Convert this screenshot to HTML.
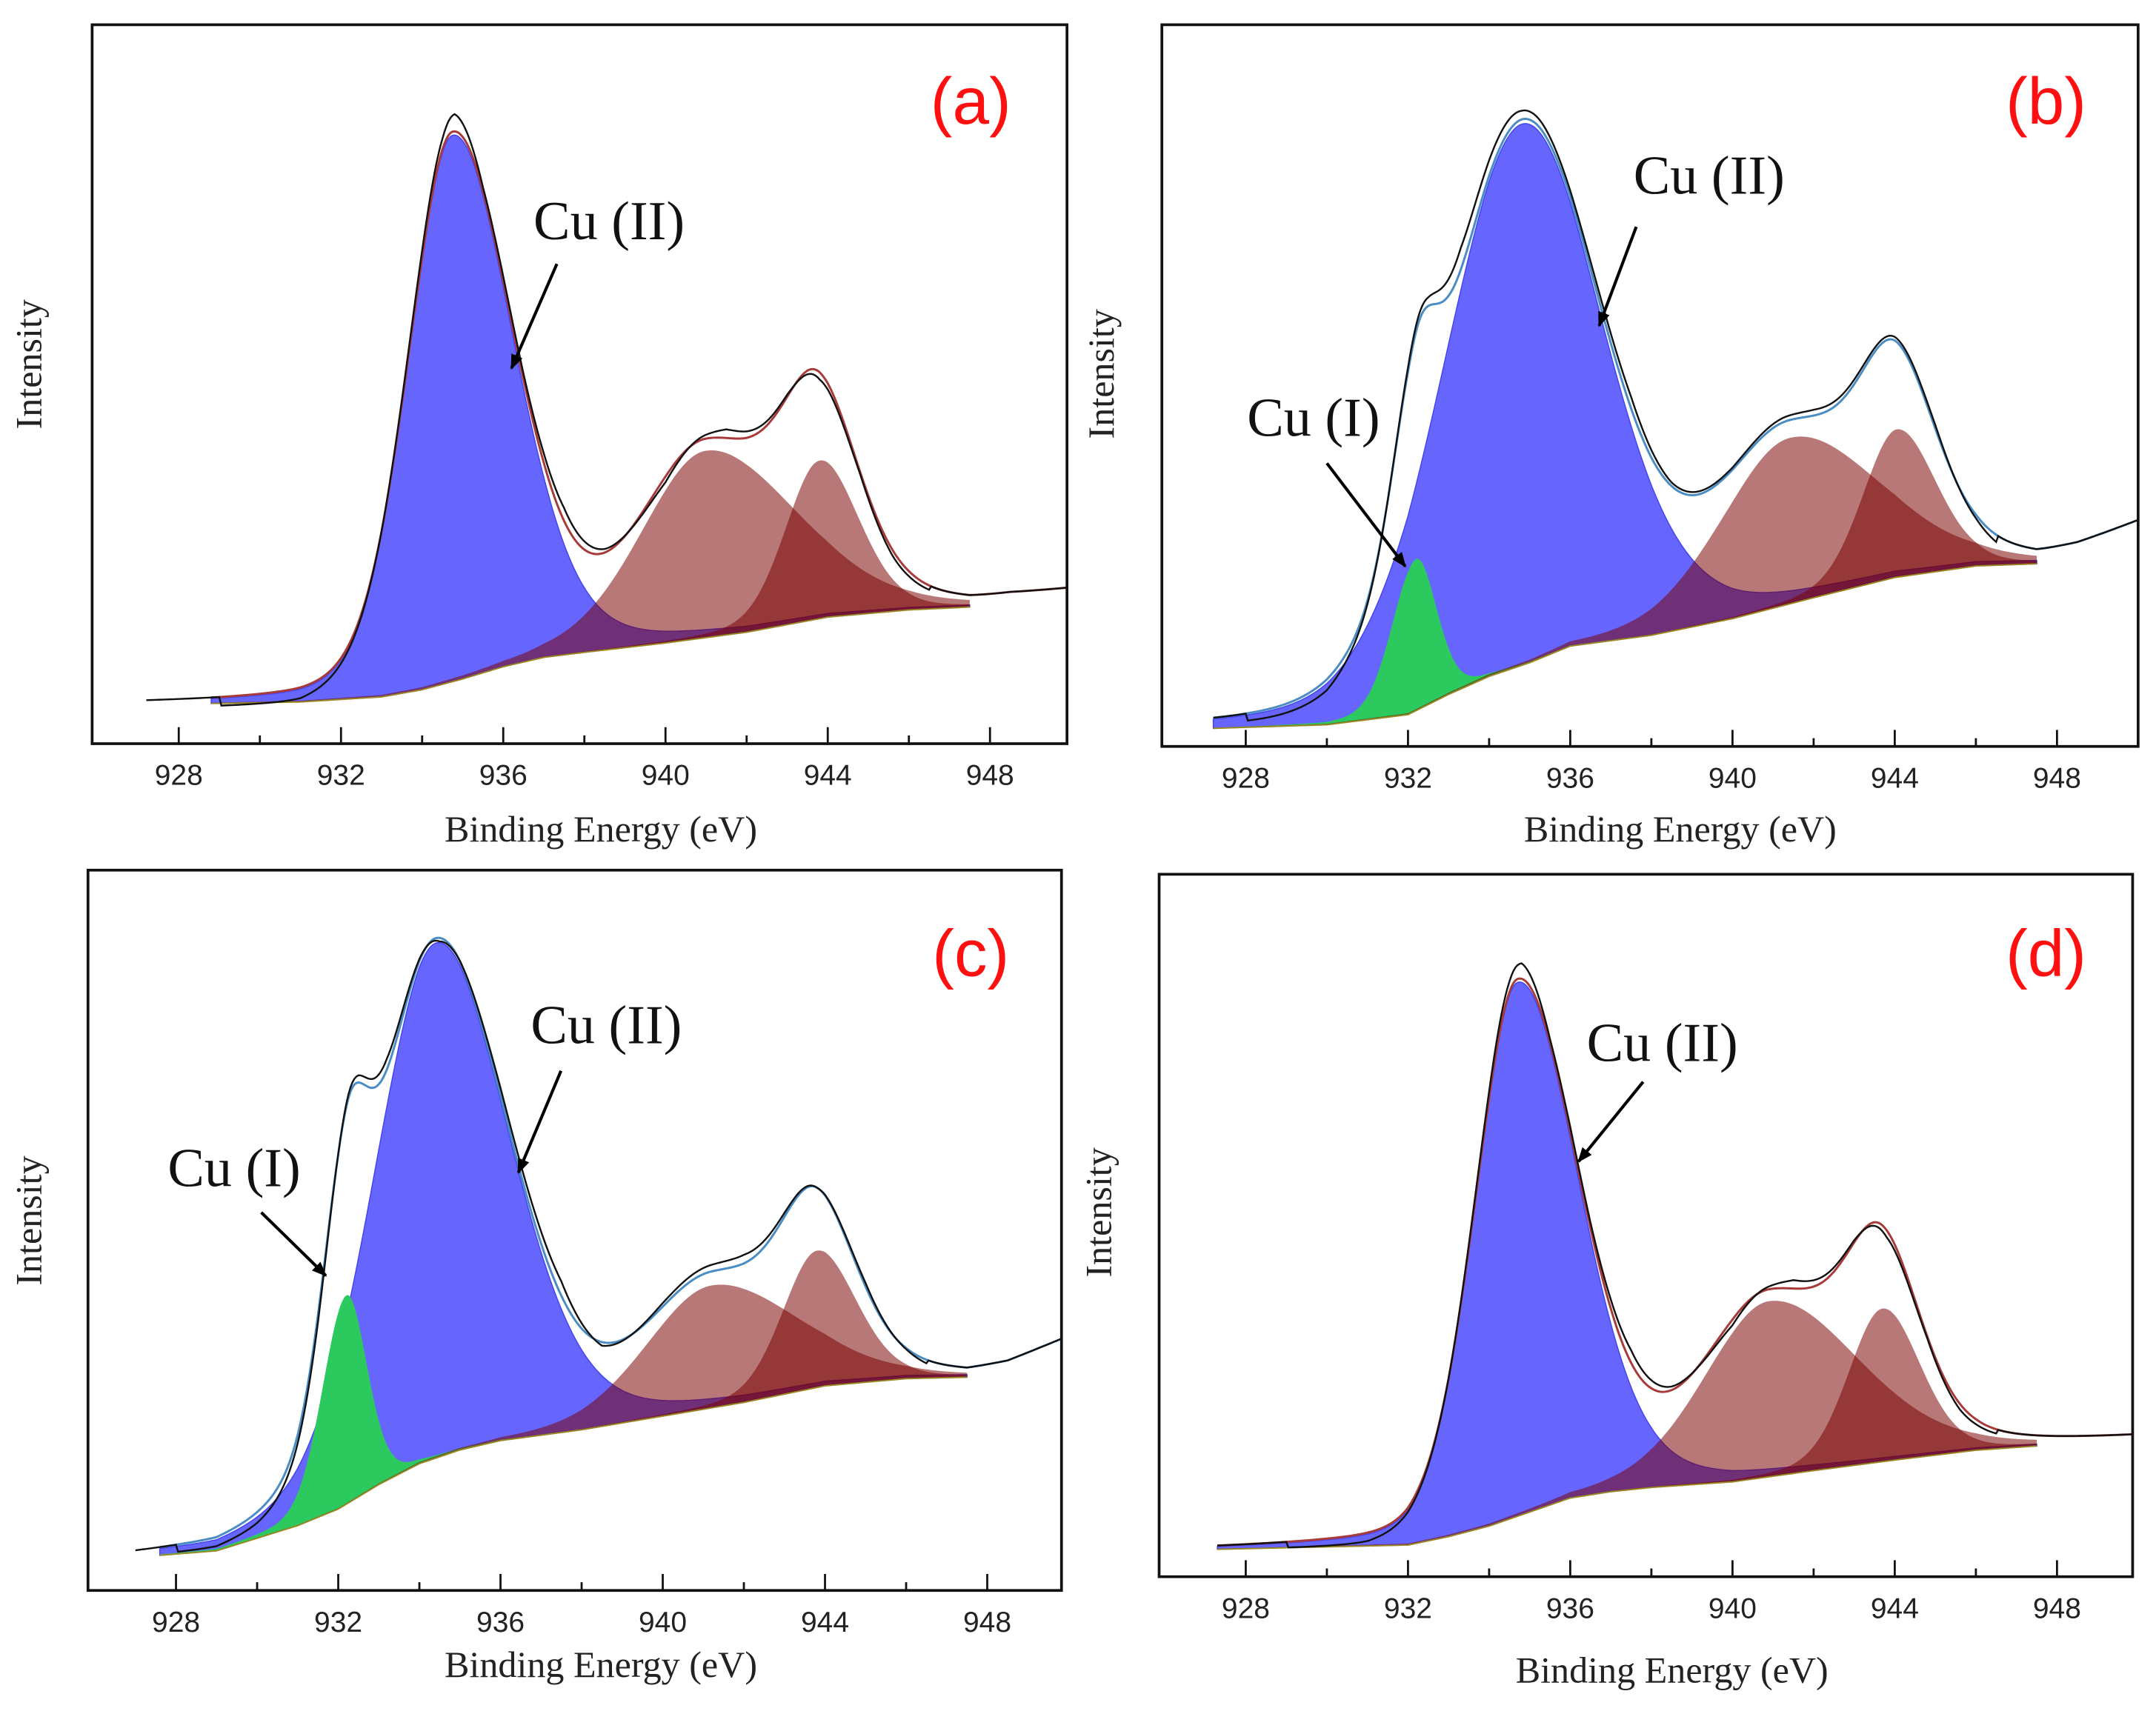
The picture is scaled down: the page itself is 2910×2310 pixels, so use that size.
<!DOCTYPE html>
<html><head><meta charset="utf-8"><style>
html,body{margin:0;padding:0;background:#fff;}
svg{display:block;}
.tick{font-family:"Liberation Sans",sans-serif;font-size:21px;fill:#222;text-anchor:middle;}
.axl{font-family:"Liberation Serif",serif;font-size:27px;fill:#222;text-anchor:middle;}
.ann{font-family:"Liberation Serif",serif;font-size:40px;fill:#111;}
.lab{font-family:"Liberation Sans",sans-serif;font-size:48px;fill:#ff1010;text-anchor:middle;}
</style></head><body>
<svg id="fig" width="2910" height="2310" viewBox="0 0 1568 1244.7" preserveAspectRatio="none" xmlns="http://www.w3.org/2000/svg"></svg>
<script>
// ---- Panel (a) data ----
const bgEV_a = [927.2,929,931,933,934,935,936,937,938,940,942,944,946,947.5,948.5,950];
const bgVal_a = [5.5,5.6,5.8,6.5,7.5,9,10.7,12,12.7,14,15.5,17.6,18.6,19,20,21];
const centers_a = [934.75,941.0,943.8];
const heights_a = [76,26,22];
const widthsL_a = [1.3,1.9,1.0];
const widthsR_a = [1.75,2.6,1.15];
const kinds_a = ['blue','red','red'];
const measEV_a = [929,931,933,934.5,934.8,935.5,936.5,937.5,938.5,940,941.5,943,943.8,944.8,945.6,946.5];
const measDev_a = [-1.2,-1.5,0,1.5,2.4,0.5,0.8,1.8,0.5,-0.8,1.2,0.3,-1.0,-0.3,-0.8,-0.6];

// ---- Panel (b) data ----
const bgEV_b = [927.2,930,932,933,934,935,936,938,940,942,944,946,947.5,948.5,950];
const bgVal_b = [2.5,3,4.4,7.2,9.7,11.6,13.9,15.4,17.7,20.6,23.4,25,25.3,27,30.5];
const centers_b = [934.8,932.2,941.4,944.05];
const heights_b = [75,21,23,20.5];
const widthsL_b = [2.3,0.7,2.0,1.0];
const widthsR_b = [2.3,0.6,2.6,1.15];
const kinds_b = ['blue','green','red','red'];
const measEV_b = [928,930,931.5,932.5,933.3,934.8,936,937.5,938.5,940,942,943.8,945,946.5];
const measDev_b = [-1,-1.5,0,1.2,3,1.2,0.8,1.6,0.5,0.3,0.8,0.5,0.5,-1];

// ---- Panel (c) data ----
const bgEV_c = [927,929,931,932,933,934,935,936,938,940,942,944,946,947.5,948.5,950];
const bgVal_c = [4.6,5.5,9,11.3,14.7,17.6,19.5,20.8,22.3,24.2,26.1,28.4,29.4,29.6,31,34.7];
const centers_c = [934.4,932.2,941.2,943.8];
const heights_c = [71.5,29,17,19];
const widthsL_c = [1.8,0.7,1.9,1.0];
const widthsR_c = [2.1,0.6,2.5,1.15];
const kinds_c = ['blue','green','red','red'];
const measEV_c = [928,930,931.5,932.5,933.2,934.5,936,937.5,938.5,940,942,943.8,945,946.5];
const measDev_c = [-1,-1.5,-1,1,1.5,-0.5,1,2,-0.5,0.5,1.2,0,0.5,-0.5];

// ---- Panel (d) data ----
const bgEV_d = [927.3,932,933,934,935,936,937,938,940,942,944,946,947.5,948.5,950];
const bgVal_d = [3.9,4.5,5.7,7.2,9.2,11.2,12.1,12.7,13.5,15.1,16.6,18,18.6,19,19.6];
const centers_d = [934.7,940.9,943.7];
const heights_d = [76,25,21.8];
const widthsL_d = [1.25,1.9,1.0];
const widthsR_d = [1.75,2.6,1.1];
const kinds_d = ['blue','red','red'];
const measEV_d = [929,931,933,934.5,934.8,935.5,936.5,937.5,938.5,940,941.5,943,943.8,944.8,945.6,946.5];
const measDev_d = [-0.8,-1.2,0,1.5,2.2,0.5,0.8,1.8,0.5,-0.8,1.2,0.3,-1.0,-0.3,-0.8,-0.6];

const NS='http://www.w3.org/2000/svg';
const fig=document.getElementById('fig');
function mk(tag,attrs,parent){const e=document.createElementNS(NS,tag);for(const k in attrs)e.setAttribute(k,attrs[k]);(parent||fig).appendChild(e);return e;}
function interp(xs,ys,x){if(x<=xs[0])return ys[0];for(let i=1;i<xs.length;i++){if(x<=xs[i]){const t=(x-xs[i-1])/(xs[i]-xs[i-1]);return ys[i-1]+t*(ys[i]-ys[i-1]);}}return ys[ys.length-1];}
function pv(x,c,h,wl,wr){const w=x<c?wl:wr;const d=(x-c)/w;return h*(0.8*Math.exp(-Math.LN2*d*d)+0.2/(1+d*d));}

const panels=[
 {id:'a',L:67,T:18,R:776,B:541,x928:130,lbl:[706,90],xl:[437,612],yl:[30,265],bgEV:bgEV_a,bgVal:bgVal_a,c:centers_a,h:heights_a,wl:widthsL_a,wr:widthsR_a,k:kinds_a,mEV:measEV_a,mDev:measDev_a,fit:'#a83a3a',fs:928.8,fe:947.5,
  ann:[{t:'Cu (II)',x:388,y:174,ax:[405,192,372,268]}]},
 {id:'b',L:845,T:18,R:1555,B:543,x928:906,lbl:[1488,90],xl:[1222,612],yl:[810,272],bgEV:bgEV_b,bgVal:bgVal_b,c:centers_b,h:heights_b,wl:widthsL_b,wr:widthsR_b,k:kinds_b,mEV:measEV_b,mDev:measDev_b,fit:'#4a8cc4',fs:927.2,fe:947.5,
  ann:[{t:'Cu (II)',x:1188,y:141,ax:[1190,165,1163,237]},{t:'Cu (I)',x:907,y:317,ax:[965,337,1022,412]}]},
 {id:'c',L:64,T:633,R:772,B:1157,x928:128,lbl:[706,710],xl:[437,1220],yl:[30,888],bgEV:bgEV_c,bgVal:bgVal_c,c:centers_c,h:heights_c,wl:widthsL_c,wr:widthsR_c,k:kinds_c,mEV:measEV_c,mDev:measDev_c,fit:'#4a8cc4',fs:927.6,fe:947.5,
  ann:[{t:'Cu (II)',x:386,y:759,ax:[408,779,377,853]},{t:'Cu (I)',x:122,y:863,ax:[190,882,237,928]}]},
 {id:'d',L:843,T:636,R:1551,B:1147,x928:906,lbl:[1488,710],xl:[1216,1224],yl:[808,882],bgEV:bgEV_d,bgVal:bgVal_d,c:centers_d,h:heights_d,wl:widthsL_d,wr:widthsR_d,k:kinds_d,mEV:measEV_d,mDev:measDev_d,fit:'#a83a3a',fs:927.3,fe:947.5,
  ann:[{t:'Cu (II)',x:1154,y:772,ax:[1195,787,1148,845]}]}
];
mk('defs',{}).innerHTML='<marker id="ah" viewBox="0 0 10 10" refX="9" refY="5" markerWidth="5" markerHeight="5" orient="auto"><path d="M0,1 L10,5 L0,9 z" fill="#000"/></marker>';

panels.forEach(p=>{
  const g=mk('g',{});
  
  
  const X=e=>p.x928+(e-928)*29.5, Y=v=>p.B-v/100*(p.B-p.T);
  const cp=mk('clipPath',{id:'clip'+p.id},g);mk('rect',{x:p.L,y:p.T,width:p.R-p.L,height:p.B-p.T},cp);
  const pg=mk('g',{'clip-path':'url(#clip'+p.id+')'},g);
  const bg=e=>interp(p.bgEV,p.bgVal,e);
  const comp=(e,i)=>pv(e,p.c[i],p.h[i],p.wl[i],p.wr[i]);
  const step=0.05;
  const fillCol={blue:'#6666ff',green:'#2cc95f',red:'rgba(120,0,0,0.53)'};
  const order=[];p.k.forEach((k,i)=>{if(k==='blue')order.push(i);});p.k.forEach((k,i)=>{if(k==='green')order.push(i);});p.k.forEach((k,i)=>{if(k==='red')order.push(i);});
  order.forEach(i=>{
    let top=[],bot=[];
    for(let e=p.fs;e<=p.fe+1e-9;e+=step){top.push(X(e).toFixed(2)+','+Y(bg(e)+comp(e,i)).toFixed(2));bot.unshift(X(e).toFixed(2)+','+Y(bg(e)).toFixed(2));}
    const poly=mk('polygon',{points:top.concat(bot).join(' '),fill:fillCol[p.k[i]],stroke:p.k[i]==='blue'?'#4444ee':'none','stroke-width':0.8},pg);
    
    
  });
  const env=e=>{let s=bg(e);p.c.forEach((c,i)=>s+=comp(e,i));return s;};
  let bl=[];for(let e=p.fs;e<=p.fe+1e-9;e+=step)bl.push(X(e).toFixed(2)+','+Y(bg(e)).toFixed(2));
  const bgl=mk('polyline',{points:bl.join(' '),fill:'none',stroke:'#9a8a20','stroke-width':1},pg);
  
  
  let fl=[];for(let e=p.fs;e<=950+1e-9;e+=step)fl.push(X(e).toFixed(2)+','+Y(env(e)).toFixed(2));
  const fit=mk('polyline',{points:fl.join(' '),fill:'none',stroke:p.fit,'stroke-width':1.6},pg);
  
  
  let ml=[];for(let e=p.bgEV[0];e<=950+1e-9;e+=step){const d=(e>=p.mEV[0]&&e<=p.mEV[p.mEV.length-1])?interp(p.mEV,p.mDev,e):0;ml.push(X(e).toFixed(2)+','+Y(env(e)+d).toFixed(2));}
  const meas=mk('polyline',{points:ml.join(' '),fill:'none',stroke:'#111','stroke-width':1.3},pg);
  
  
  const fr=mk('rect',{x:p.L,y:p.T,width:p.R-p.L,height:p.B-p.T,fill:'none',stroke:'#111','stroke-width':2},g);
  
  
  for(let e=928;e<=948;e+=2){const major=(e%4===0);mk('line',{x1:X(e),x2:X(e),y1:p.B,y2:p.B-(major?12:6),stroke:'#111','stroke-width':1.5},g);
    if(major){const t=mk('text',{x:X(e),y:p.B+30,class:'tick'},g);t.textContent=e;
      
      }}
  const xl=mk('text',{x:p.xl[0],y:p.xl[1],class:'axl'},g);xl.textContent='Binding Energy (eV)';
  
  
  const yl=mk('text',{x:p.yl[0],y:p.yl[1],class:'axl',transform:'rotate(-90 '+p.yl[0]+' '+p.yl[1]+')'},g);yl.textContent='Intensity';
  
  
  const lb=mk('text',{x:p.lbl[0],y:p.lbl[1],class:'lab'},g);lb.textContent='('+p.id+')';
  
  
  p.ann.forEach(a=>{const t=mk('text',{x:a.x,y:a.y,class:'ann'},g);t.textContent=a.t;
    
    
    const l=mk('line',{x1:a.ax[0],y1:a.ax[1],x2:a.ax[2],y2:a.ax[3],stroke:'#000','stroke-width':2.2,'marker-end':'url(#ah)'},g);
    
    });
});
</script>
</body></html>
